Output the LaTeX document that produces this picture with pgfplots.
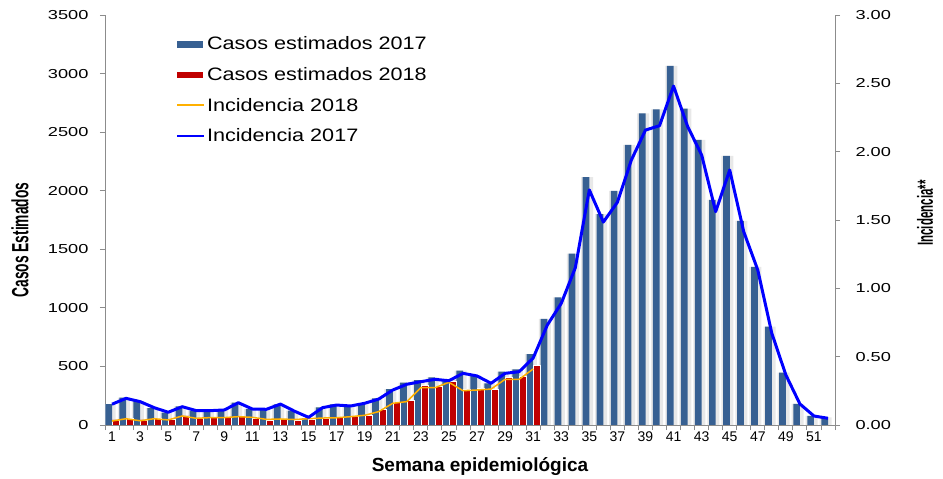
\documentclass[border=0pt]{standalone}
\usepackage{fontspec}
\setmainfont{Liberation Sans}
\usepackage{pgfplots}
\usepackage{pgfplotstable}
\pgfplotsset{compat=1.18}
\definecolor{c17}{HTML}{376092}
\definecolor{c18}{HTML}{C00000}
\definecolor{inc18}{HTML}{FFB000}
\definecolor{inc17}{HTML}{0000FF}
\definecolor{axgray}{HTML}{8C8C8C}
\pgfplotsset{/pgf/number format/assume math mode=true}

\pgfplotstableread{
week cases inc
1 178 0.152
2 234 0.195
3 205 0.171
4 143 0.127
5 106 0.093
6 160 0.134
7 122 0.105
8 120 0.105
9 128 0.110
10 190 0.163
11 138 0.117
12 136 0.115
13 177 0.153
14 122 0.101
15 57 0.056
16 151 0.127
17 175 0.146
18 162 0.139
19 185 0.159
20 228 0.190
21 307 0.256
22 361 0.298
23 384 0.317
24 407 0.334
25 390 0.324
26 464 0.378
27 425 0.359
28 356 0.305
29 455 0.378
30 475 0.390
31 605 0.490
32 905 0.730
33 1090 0.890
34 1463 1.150
35 2115 1.720
36 1800 1.485
37 1998 1.630
38 2392 1.940
39 2661 2.158
40 2695 2.190
41 3065 2.480
42 2700 2.185
43 2433 1.976
44 1921 1.561
45 2297 1.866
46 1742 1.414
47 1349 1.134
48 839 0.671
49 447 0.366
50 180 0.154
51 77 0.066
52 66 0.049
}\tabA

\pgfplotstableread{
week cases inc
1 43 0.029
2 57 0.046
3 43 0.031
4 57 0.046
5 48 0.037
6 77 0.066
7 57 0.049
8 63 0.054
9 63 0.054
10 71 0.061
11 57 0.056
12 43 0.041
13 48 0.044
14 43 0.040
15 51 0.046
16 57 0.051
17 65 0.053
18 71 0.061
19 85 0.071
20 134 0.098
21 196 0.159
22 213 0.171
23 336 0.273
24 327 0.273
25 376 0.312
26 307 0.251
27 313 0.256
28 304 0.263
29 407 0.334
30 415 0.334
31 510 0.410
}\tabB

\begin{document}
\begin{tikzpicture}
\useasboundingbox (-105pt,-54pt) rectangle (838pt,425pt);
\begin{axis}[
  at={(0pt,0pt)}, anchor=south west,
  width=730pt, height=410pt, scale only axis,
  xmin=0.5, xmax=52.5, ymin=0, ymax=3500,
  axis x line*=bottom, axis y line*=left,
  axis line style={-, draw=axgray, line width=0.9pt},
  tick align=outside, major tick length=5pt,
  tick style={draw=axgray, line width=0.9pt},
  xtick={0.5,1.5,...,52.5}, xticklabels={},
  extra x ticks={1,3,...,51},
  extra x tick style={major tick length=0pt},
  extra x tick labels={1,3,5,7,9,11,13,15,17,19,21,23,25,27,29,31,33,35,37,39,41,43,45,47,49,51},
  xticklabel style={font=\fontsize{14}{16}\selectfont, yshift=-3pt},
  ytick={0,500,...,3500},
  yticklabel={\scalebox{1.4}[1]{\pgfmathprintnumber[1000 sep={}]{\tick}}},
  yticklabel style={font=\fontsize{13}{16}\selectfont, xshift=-8pt},
  xlabel={Semana epidemiológica},
  xlabel style={at={(axis description cs:0.5137,-0.102)}, anchor=center, font=\bfseries\fontsize{19}{22}\selectfont},
  ylabel={\scalebox{1}[1.7]{Casos Estimados}},
  ylabel style={at={(axis description cs:-0.1164,0.451)}, anchor=center, font=\bfseries\fontsize{13.8}{16}\selectfont},
]
\addplot[ybar, bar width=12pt, bar shift=-2.3pt, fill=black!9, draw=none] table[x=week,y=cases]{\tabA};
\addplot[ybar, bar width=6.7pt, bar shift=-3.3pt, fill=c17, draw=none] table[x=week,y=cases]{\tabA};
\addplot[ybar, bar width=7pt, bar shift=3.6pt, fill=c18, draw=white, line width=0.5pt] table[x=week,y=cases]{\tabB};
\end{axis}
\begin{axis}[
  at={(0pt,0pt)}, anchor=south west,
  width=730pt, height=410pt, scale only axis,
  xmin=0.5, xmax=52.5, ymin=0, ymax=3,
  axis x line=none, axis y line*=right,
  axis line style={-, draw=axgray, line width=0.9pt},
  tick align=outside, major tick length=5pt,
  tick style={draw=axgray, line width=0.9pt},
  ytick={0,0.5,1,1.5,2,2.5,3},
  yticklabel={\scalebox{1.4}[1]{\pgfmathprintnumber[fixed,fixed zerofill,precision=2]{\tick}}},
  yticklabel style={font=\fontsize{13}{16}\selectfont, xshift=12pt},
  ylabel={\scalebox{1}[1.9]{Incidencia**}},
  ylabel style={at={(axis description cs:1.1233,0.517)}, anchor=center, font=\bfseries\fontsize{11.5}{14}\selectfont},
  legend style={draw=none, fill=none, at={(axis description cs:0.097,0.952)}, anchor=north west,
    font=\fontsize{18}{21}\selectfont, row sep=12pt, inner sep=0pt, nodes={inner sep=2pt}},
  legend cell align=left,
]
\addlegendimage{legend image code/.code={\fill[c17] (0pt,-2.7pt) rectangle (25pt,2.7pt);}}
\addlegendentry{\scalebox{1.2}[1]{Casos estimados 2017}}
\addlegendimage{legend image code/.code={\fill[c18] (0pt,-2.7pt) rectangle (25pt,2.7pt);}}
\addlegendentry{\scalebox{1.2}[1]{Casos estimados 2018}}
\addplot[inc18, line width=1.5pt, no marks, line join=round,
  legend image code/.code={\draw[draw=inc18, line width=1.6pt] (0pt,0pt) -- (27pt,0pt);}] table[x=week,y=inc]{\tabB};
\addlegendentry{\scalebox{1.2}[1]{Incidencia 2018}}
\addplot[inc17, line width=3pt, no marks, line join=round,
  legend image code/.code={\draw[draw=inc17, line width=2pt] (0pt,0pt) -- (27pt,0pt);}] table[x=week,y=inc]{\tabA};
\addlegendentry{\scalebox{1.2}[1]{Incidencia 2017}}
\end{axis}
\end{tikzpicture}
\end{document}
